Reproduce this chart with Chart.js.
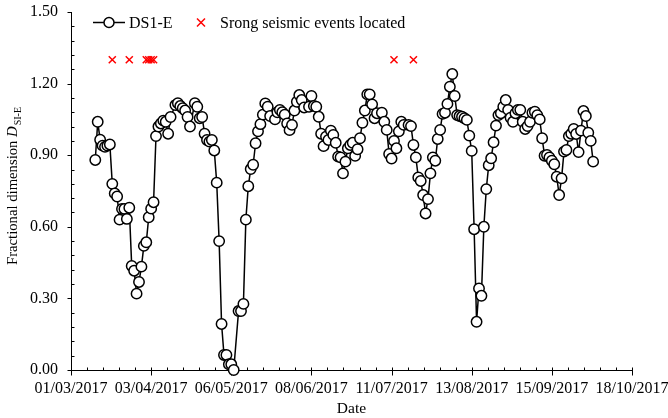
<!DOCTYPE html>
<html>
<head>
<meta charset="utf-8">
<script src="https://cdn.jsdelivr.net/npm/chart.js@4.4.1/dist/chart.umd.min.js"></script>
<style>
  html, body { margin: 0; padding: 0; background: #fff; }
  #wrap { width: 668px; height: 418px; }
</style>
</head>
<body>
<div id="wrap"><canvas id="fdChart"></canvas></div>
<script>
// DS1-E fractional dimension, one reading per date (grouped by month)
const dates = [
    '2017-03-11', '2017-03-12', '2017-03-13', '2017-03-14', '2017-03-15', '2017-03-16', '2017-03-17', '2017-03-18',
    '2017-03-19', '2017-03-20', '2017-03-21', '2017-03-22', '2017-03-23', '2017-03-24', '2017-03-25', '2017-03-26',
    '2017-03-27', '2017-03-28', '2017-03-29', '2017-03-30', '2017-03-31',

    '2017-04-01', '2017-04-02', '2017-04-03', '2017-04-04', '2017-04-05', '2017-04-06', '2017-04-07', '2017-04-08',
    '2017-04-09', '2017-04-10', '2017-04-11', '2017-04-13', '2017-04-14', '2017-04-15', '2017-04-16', '2017-04-17',
    '2017-04-18', '2017-04-19', '2017-04-21', '2017-04-22', '2017-04-23', '2017-04-24', '2017-04-25', '2017-04-26',
    '2017-04-27', '2017-04-28', '2017-04-29', '2017-04-30',

    '2017-05-01', '2017-05-02', '2017-05-03', '2017-05-04', '2017-05-05', '2017-05-06', '2017-05-07', '2017-05-09',
    '2017-05-10', '2017-05-11', '2017-05-12', '2017-05-13', '2017-05-14', '2017-05-15', '2017-05-16', '2017-05-17',
    '2017-05-18', '2017-05-19', '2017-05-20', '2017-05-21', '2017-05-22', '2017-05-24', '2017-05-25', '2017-05-26',
    '2017-05-27', '2017-05-28', '2017-05-29', '2017-05-30', '2017-05-31',

    '2017-06-01', '2017-06-02', '2017-06-03', '2017-06-04', '2017-06-05', '2017-06-07', '2017-06-08', '2017-06-09',
    '2017-06-10', '2017-06-11', '2017-06-12', '2017-06-13', '2017-06-14', '2017-06-15', '2017-06-16', '2017-06-17',
    '2017-06-18', '2017-06-19', '2017-06-20', '2017-06-21', '2017-06-22', '2017-06-23', '2017-06-24', '2017-06-25',
    '2017-06-26', '2017-06-27', '2017-06-28', '2017-06-29', '2017-06-30',

    '2017-07-01', '2017-07-02', '2017-07-03', '2017-07-04', '2017-07-05', '2017-07-07', '2017-07-08', '2017-07-09',
    '2017-07-10', '2017-07-11', '2017-07-12', '2017-07-13', '2017-07-14', '2017-07-15', '2017-07-16', '2017-07-18',
    '2017-07-19', '2017-07-20', '2017-07-21', '2017-07-22', '2017-07-23', '2017-07-24', '2017-07-25', '2017-07-26',
    '2017-07-27', '2017-07-28', '2017-07-29', '2017-07-30', '2017-07-31',

    '2017-08-01', '2017-08-02', '2017-08-03', '2017-08-04', '2017-08-05', '2017-08-06', '2017-08-07', '2017-08-08',
    '2017-08-09', '2017-08-10', '2017-08-11', '2017-08-12', '2017-08-13', '2017-08-14', '2017-08-15', '2017-08-16',
    '2017-08-17', '2017-08-18', '2017-08-19', '2017-08-20', '2017-08-21', '2017-08-22', '2017-08-23', '2017-08-24',
    '2017-08-25', '2017-08-26', '2017-08-27', '2017-08-28', '2017-08-29', '2017-08-30', '2017-08-31',

    '2017-09-01', '2017-09-02', '2017-09-03', '2017-09-04', '2017-09-05', '2017-09-06', '2017-09-07', '2017-09-08',
    '2017-09-09', '2017-09-10', '2017-09-11', '2017-09-12', '2017-09-13', '2017-09-14', '2017-09-15', '2017-09-16',
    '2017-09-17', '2017-09-18', '2017-09-19', '2017-09-20', '2017-09-21', '2017-09-22', '2017-09-23', '2017-09-24',
    '2017-09-25', '2017-09-26', '2017-09-27', '2017-09-28', '2017-09-29', '2017-09-30',

    '2017-10-01', '2017-10-02'
];
const ds1e = [
    0.88, 1.04, 0.965, 0.94, 0.935, 0.94, 0.945, 0.78,
    0.74, 0.727, 0.63, 0.675, 0.675, 0.633, 0.68, 0.436,
    0.416, 0.32, 0.369, 0.433, 0.52,

    0.535, 0.64, 0.676, 0.703, 0.98, 1.02, 1.033, 1.045,
    1.04, 0.99, 1.06, 1.11, 1.118, 1.106, 1.097, 1.087,
    1.06, 1.02, 1.118, 1.103, 1.055, 1.06, 0.99, 0.964,
    0.957, 0.964, 0.92, 0.785,

    0.54, 0.193, 0.063, 0.063, 0.024, 0.024, 0.0, 0.247,
    0.247, 0.277, 0.63, 0.77, 0.842, 0.86, 0.95, 1.0,
    1.03, 1.07, 1.117, 1.103, 1.064, 1.05, 1.08, 1.09,
    1.08, 1.07, 1.033, 1.005, 1.027,

    1.087, 1.124, 1.152, 1.131, 1.10, 1.103, 1.148, 1.106,
    1.103, 1.061, 0.99, 0.938, 0.978, 0.964, 1.003, 0.985,
    0.952, 0.894, 0.891, 0.824, 0.873, 0.929, 0.943, 0.952,
    0.897, 0.925, 0.971, 1.036, 1.087,

    1.155, 1.155, 1.113, 1.055, 1.076, 1.078, 1.04, 1.006,
    0.905, 0.886, 0.96, 0.929, 1.0, 1.04, 1.027, 1.027,
    1.022, 0.943, 0.891, 0.807, 0.792, 0.733, 0.656, 0.716,
    0.824, 0.891, 0.877, 0.968, 1.006,

    1.073, 1.078, 1.115, 1.187, 1.24, 1.148, 1.068, 1.064,
    1.061, 1.055, 1.048, 0.982, 0.918, 0.59, 0.202, 0.342,
    0.311, 0.6, 0.758, 0.858, 0.887, 0.954, 1.024, 1.068,
    1.076, 1.103, 1.131, 1.09, 1.057, 1.04, 1.076,

    1.09, 1.09, 1.04, 1.01, 1.022, 1.04, 1.078, 1.082,
    1.068, 1.05, 0.971, 0.898, 0.901, 0.891, 0.877, 0.862,
    0.81, 0.733, 0.803, 0.915, 0.922, 0.98, 0.99, 1.01,
    0.989, 0.913, 1.003, 1.085, 1.064, 0.994,

    0.96, 0.873
];

// strong seismic events, plotted at a fixed level
const eventDates = ['2017-03-18', '2017-03-25', '2017-04-01', '2017-04-02', '2017-04-03', '2017-04-04', '2017-07-12', '2017-07-20'];
const eventLevel = 1.30;

const xTickLabels = ['01/03/2017', '03/04/2017', '06/05/2017', '08/06/2017', '11/07/2017', '13/08/2017', '15/09/2017', '18/10/2017'];
const xStepDays = 33;
const yMax = 1.5;
const yStep = 0.3;

const startDay = Date.UTC(2017, 2, 1);
function dayOf(s) {
    const p = s.split('-');
    return (Date.UTC(+p[0], +p[1] - 1, +p[2]) - startDay) / 86400000;
}

const FONT = '"Liberation Serif", "Times New Roman", serif';

// axis lines with Excel-like major/minor tick marks, titles and legend
const axesPlugin = {
    id: 'excelAxes',
    beforeDatasetsDraw(chart) {
        const { ctx, chartArea: a, scales: { x, y } } = chart;
        ctx.save();
        ctx.strokeStyle = '#000';
        ctx.lineWidth = 1;
        ctx.beginPath();
        const ax = Math.round(a.left) + 0.5;
        const ay = Math.round(a.bottom) + 0.5;
        ctx.moveTo(ax, a.top);
        ctx.lineTo(ax, ay);
        ctx.lineTo(a.right + 0.5, ay);
        // x ticks: major crosses the axis, minor inside
        for (let i = 0; i <= 35; i++) {
            const px = Math.round(x.getPixelForValue(i * xStepDays / 5)) + 0.5;
            if (i % 5 === 0) {
                ctx.moveTo(px, ay - 3);
                ctx.lineTo(px, ay + 5);
            } else {
                ctx.moveTo(px, ay - 3);
                ctx.lineTo(px, ay);
            }
        }
        // y ticks: major outside, minor inside
        for (let j = 0; j <= 25; j++) {
            const py = Math.round(y.getPixelForValue(j * yStep / 5)) + 0.5;
            if (j % 5 === 0) {
                ctx.moveTo(ax - 4, py);
                ctx.lineTo(ax, py);
            } else {
                ctx.moveTo(ax, py);
                ctx.lineTo(ax + 3, py);
            }
        }
        ctx.stroke();
        ctx.restore();
    },
    afterDraw(chart) {
        const { ctx, chartArea: a } = chart;
        ctx.save();
        ctx.fillStyle = '#000';

        // x title
        ctx.font = '15.5px ' + FONT;
        ctx.textAlign = 'center';
        ctx.textBaseline = 'alphabetic';
        ctx.fillText('Date', (a.left + a.right) / 2, 413);

        // y title with italic D and subscript
        const partA = 'Fractional dimension ';
        const partB = 'D';
        const partC = 'SI-E';
        ctx.font = '14.7px ' + FONT;
        const wA = ctx.measureText(partA).width;
        ctx.font = 'italic 14.7px ' + FONT;
        const wB = ctx.measureText(partB).width;
        ctx.font = '10px ' + FONT;
        const wC = ctx.measureText(partC).width;
        const total = wA + wB + 1 + wC;
        ctx.translate(17, 186);
        ctx.rotate(-Math.PI / 2);
        ctx.textAlign = 'left';
        let tx = -total / 2;
        ctx.font = '14.7px ' + FONT;
        ctx.fillText(partA, tx, 0);
        tx += wA;
        ctx.font = 'italic 14.7px ' + FONT;
        ctx.fillText(partB, tx, 0);
        tx += wB + 1;
        ctx.font = '10px ' + FONT;
        ctx.fillText(partC, tx, 4);
        ctx.restore();

        // legend
        ctx.save();
        const ly = 22.5;
        ctx.strokeStyle = '#000';
        ctx.lineWidth = 1.5;
        ctx.beginPath();
        ctx.moveTo(93, ly);
        ctx.lineTo(125, ly);
        ctx.stroke();
        ctx.beginPath();
        ctx.arc(109, ly, 5, 0, Math.PI * 2);
        ctx.fillStyle = '#fff';
        ctx.fill();
        ctx.stroke();

        ctx.strokeStyle = '#ff0000';
        ctx.lineWidth = 1.5;
        ctx.beginPath();
        ctx.moveTo(197, ly - 4);
        ctx.lineTo(205, ly + 4);
        ctx.moveTo(205, ly - 4);
        ctx.lineTo(197, ly + 4);
        ctx.stroke();

        ctx.fillStyle = '#000';
        ctx.font = '16px ' + FONT;
        ctx.textAlign = 'left';
        ctx.textBaseline = 'middle';
        ctx.fillText('DS1-E', 129, ly + 1);
        ctx.fillText('Srong seismic events located', 220, ly + 1);
        ctx.restore();
    }
};

window.onload = function () {
    const ctx = document.getElementById('fdChart').getContext('2d');
    new Chart(ctx, {
        type: 'line',
        data: {
            datasets: [{
                label: 'DS1-E',
                data: dates.map((d, i) => ({ x: dayOf(d), y: ds1e[i] })),
                borderColor: '#000',
                borderWidth: 1.5,
                backgroundColor: '#fff',
                pointRadius: 5.2,
                pointBorderWidth: 1.5,
                pointBorderColor: '#000',
                pointBackgroundColor: '#fff',
                tension: 0,
                clip: false
            }, {
                label: 'Srong seismic events located',
                data: eventDates.map(d => ({ x: dayOf(d), y: eventLevel })),
                showLine: false,
                pointStyle: 'crossRot',
                pointRadius: 5,
                pointBorderWidth: 1.5,
                borderColor: '#ff0000',
                pointBorderColor: '#ff0000',
                clip: false
            }]
        },
        options: {
            responsive: true,
            maintainAspectRatio: false,
            animation: false,
            events: [],
            layout: { autoPadding: false, padding: { top: 12, right: 36, left: 0, bottom: 0 } },
            plugins: {
                legend: { display: false },
                tooltip: { enabled: false }
            },
            scales: {
                x: {
                    type: 'linear',
                    min: 0,
                    max: xStepDays * (xTickLabels.length - 1),
                    afterFit: s => {
                        s.height = 48;
                        s.paddingLeft = 0; s.paddingRight = 0; s.paddingTop = 0; s.paddingBottom = 0;
                    },
                    grid: { display: false, drawTicks: false },
                    border: { display: false },
                    ticks: {
                        stepSize: xStepDays,
                        autoSkip: false,
                        maxRotation: 0,
                        padding: 9,
                        color: '#000',
                        font: { family: FONT, size: 16 },
                        callback: v => xTickLabels[Math.round(v / xStepDays)]
                    }
                },
                y: {
                    min: 0,
                    max: yMax,
                    afterFit: s => {
                        s.width = 71;
                        s.paddingLeft = 0; s.paddingRight = 0; s.paddingTop = 0; s.paddingBottom = 0;
                    },
                    grid: { display: false, drawTicks: false },
                    border: { display: false },
                    ticks: {
                        stepSize: yStep,
                        padding: 13,
                        color: '#000',
                        font: { family: FONT, size: 16 },
                        callback: v => v.toFixed(2)
                    }
                }
            }
        },
        plugins: [axesPlugin]
    });
};
</script>
</body>
</html>
